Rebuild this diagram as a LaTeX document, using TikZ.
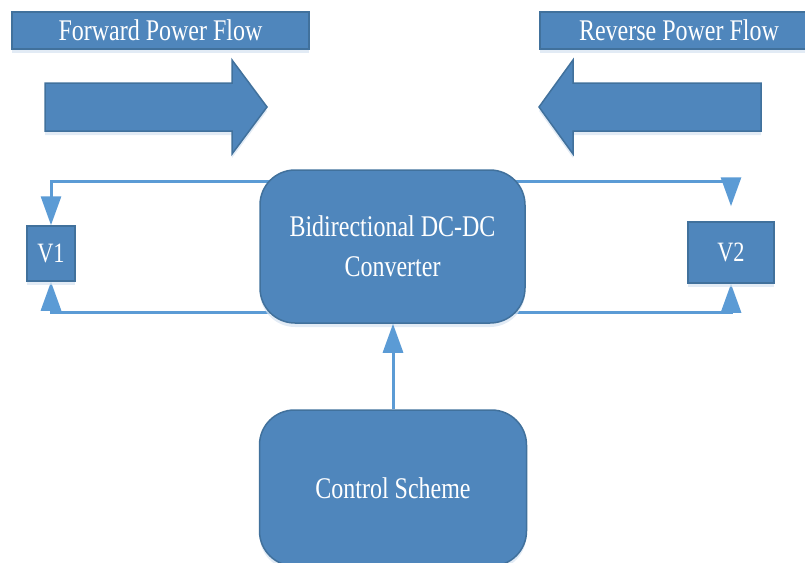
\documentclass[tikz,border=0pt]{standalone}
\usepackage{fontspec}
\setmainfont{Liberation Serif}
\newfontfamily\cnd[FakeStretch=0.8]{Liberation Serif}
\usetikzlibrary{arrows.meta,calc,backgrounds,shadows}
\definecolor{boxfill}{HTML}{4F86BC}
\definecolor{boxedge}{HTML}{41719C}
\definecolor{wire}{HTML}{5B9BD5}
\definecolor{shade}{HTML}{D6E3F1}
\tikzset{
  bluebox/.style={fill=boxfill, draw=boxedge, line width=1.5pt, text=white,
    inner sep=0pt, font=\cnd\fontsize{30}{40}\selectfont, align=center,
    drop shadow={shadow xshift=0pt, shadow yshift=-4pt, fill=shade, opacity=0.7}},
  roundbox/.style={bluebox, rounded corners=35pt},
  vbox/.style={bluebox, font=\cnd\fontsize{28}{34}\selectfont},
  blockarrow/.style={fill=boxfill, draw=boxedge, line width=1.5pt,
    drop shadow={shadow xshift=0pt, shadow yshift=-4pt, fill=shade, opacity=0.7}},
  wireline/.style={draw=wire, line width=3pt},
  wirearrow/.style={wireline, -{Triangle[width=20pt,length=29pt]}}
}
\begin{document}
\begin{tikzpicture}[x=1pt,y=-1pt]
\useasboundingbox (0,0) rectangle (805,562);
% title boxes
\node[bluebox, minimum width=297pt, minimum height=37pt] (fwd) at (160.5,30.5) {Forward Power Flow};
\node[bluebox, minimum width=278pt, minimum height=37pt] (rev) at (679,30.5) {Reverse Power Flow};
% block arrows
\path[blockarrow] (45,83) -- (232,83) -- (232,60) -- (267,107) -- (232,154) -- (232,131) -- (45,131) -- cycle;
\path[blockarrow] (761,83) -- (573,83) -- (573,60) -- (539,107) -- (573,154) -- (573,131) -- (761,131) -- cycle;
% main boxes
\node[roundbox, minimum width=265pt, minimum height=153pt] (conv) at (392.5,246.5) {Bidirectional DC-DC\\Converter};
\node[roundbox, minimum width=267pt, minimum height=156pt] (ctrl) at (393,488) {Control Scheme};
\node[vbox, minimum width=48pt, minimum height=55pt] (v1) at (51,253.5) {V1};
\node[vbox, minimum width=86pt, minimum height=61pt] (v2) at (731,252.5) {V2};
% connectors
\begin{pgfonlayer}{background}
\draw[wirearrow] ($(conv.north)+(0,12)$) -| (v1.north);
\draw[wirearrow] ($(conv.north)+(0,12)$) -| ($(v2.north)+(0,-15)$);
\draw[wirearrow] ($(conv.south)+(0,-11)$) -| (v1.south);
\draw[wirearrow] ($(conv.south)+(0,-11)$) -| (v2.south);
\end{pgfonlayer}
\draw[wirearrow] (ctrl.north) -- (ctrl.north |- conv.south);
\end{tikzpicture}
\end{document}
